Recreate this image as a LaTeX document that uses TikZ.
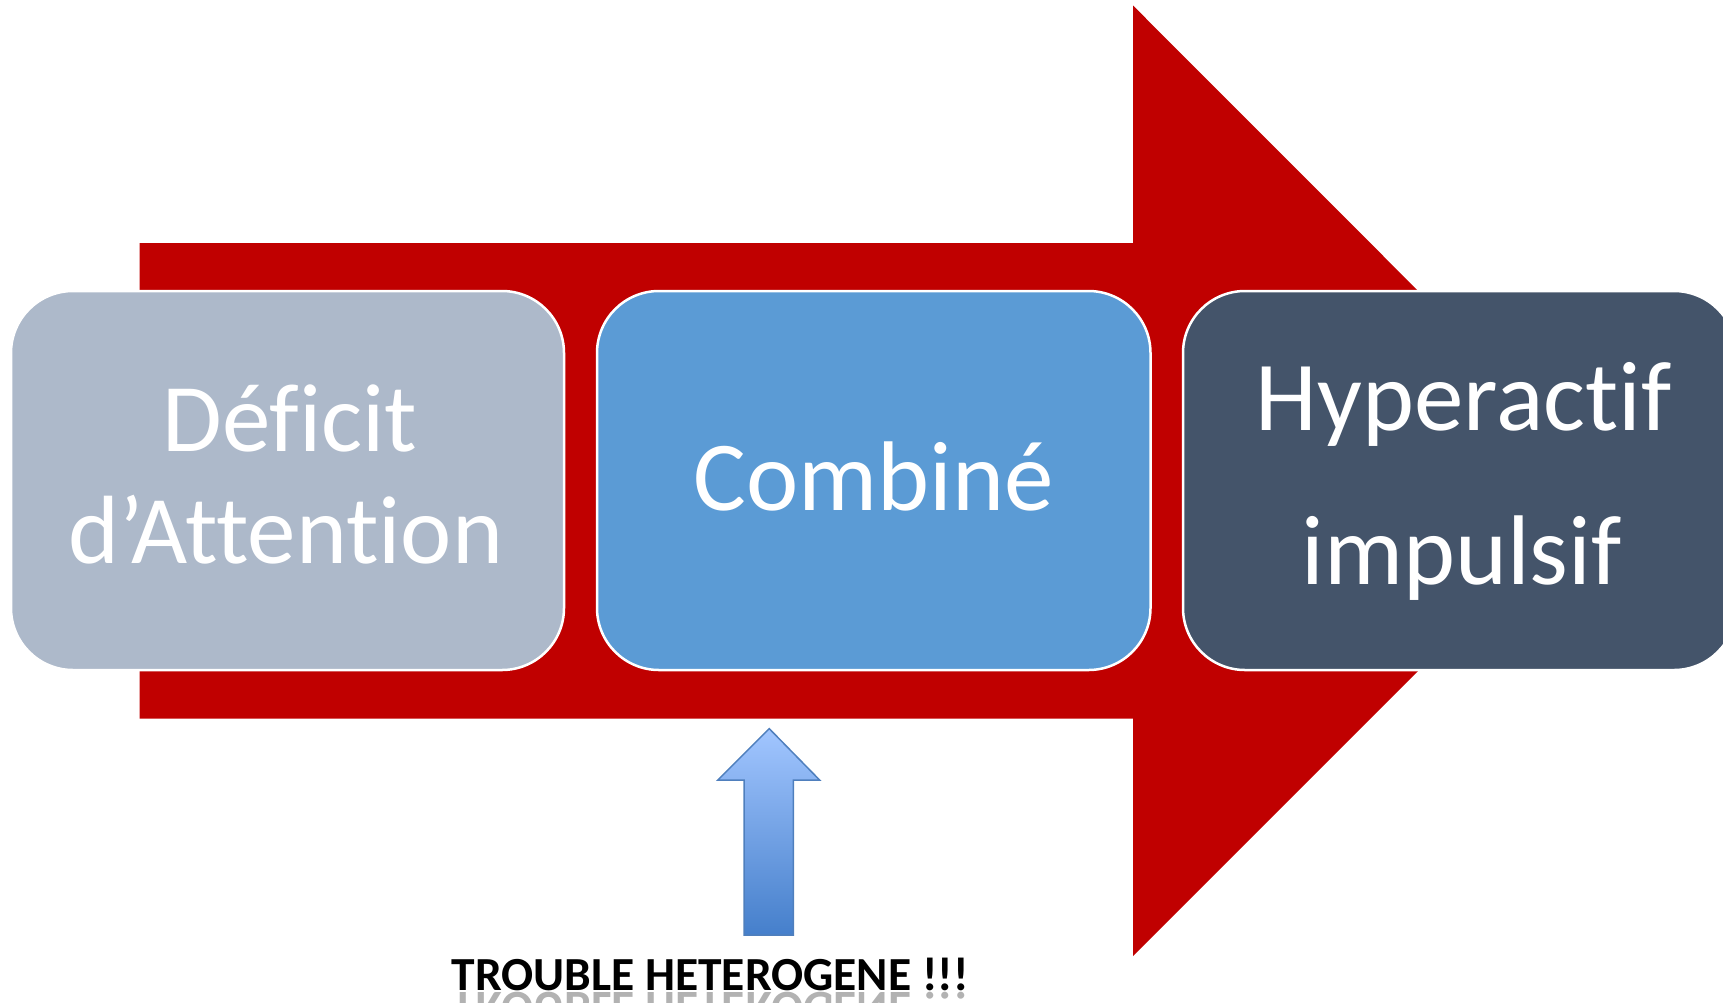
\documentclass[tikz,border=0pt]{standalone}
\usepackage{fontspec}
\setmainfont{Carlito}[Ligatures={CommonOff,ContextualOff}]
\usepackage{graphicx}
\begin{document}
\begin{tikzpicture}[x=1pt,y=-1pt,
  stagebox/.style={draw=white, line width=2.5pt, rounded corners=62pt},
  bigtext/.style={anchor=base, text=white, inner sep=0pt, font=\fontsize{99pt}{99pt}\selectfont},
]
\definecolor{arrowred}{HTML}{C00000}
\definecolor{paleslate}{HTML}{ADB9CA}
\definecolor{midblue}{HTML}{5B9BD5}
\definecolor{darkslate}{HTML}{44546A}
\definecolor{uptop}{HTML}{A2C6FF}
\definecolor{upbottom}{HTML}{457FCB}
\definecolor{upedge}{HTML}{4F7FBD}

\useasboundingbox (0,0) rectangle (1723,1002);
\clip (0,0) rectangle (1723,1002);

% large red process arrow
\fill[arrowred] (139.6,243) -- (1133,243) -- (1133,5.5) -- (1608,481)
  -- (1133,956) -- (1133,718.7) -- (139.6,718.7) -- cycle;

% the three stages
\path[stagebox, fill=paleslate] (11,291) rectangle (564,670);
\path[stagebox, fill=midblue] (597,291) rectangle (1150.5,670);
\path[stagebox, fill=darkslate] (1183,291) rectangle (1736,670);

\node[bigtext, font=\fontsize{97pt}{97pt}\selectfont] (t1a) at (290,451.6) {Déficit};
\node[bigtext, font=\fontsize{97pt}{97pt}\selectfont] (t1b) at (286,563.7) {d’Attention};
\node[bigtext] (t2) at (873.6,510) {Combiné};
\node[bigtext] (t3a) at (1463.7,430.8) {Hyperactif};
\node[bigtext] (t3b) at (1461.6,584.6) {impulsif};

% small upward arrow
\shade[top color=uptop, bottom color=upbottom]
  (769.2,728.6) -- (819.8,780.2) -- (793.4,780.2) -- (793.4,935.2)
  -- (744,935.2) -- (744,780.2) -- (717.6,780.2) -- cycle;
\draw[upedge, line width=1.5pt, line join=miter]
  (769.2,728.6) -- (819.8,780.2) -- (793.4,780.2) -- (793.4,935.2)
  -- (744,935.2) -- (744,780.2) -- (717.6,780.2) -- cycle;

% caption with its reflection
\node[anchor=base, inner sep=0pt, font=\fontsize{47.5pt}{47.5pt}\selectfont\bfseries] (cap) at (710,990) {TROUBLE HETEROGENE !!!};
\node[anchor=base, inner sep=0pt, text=black!30, font=\fontsize{47.5pt}{47.5pt}\selectfont\bfseries] (capr) at (710,992) {\scalebox{1}[-1]{TROUBLE HETEROGENE !!!}};
\end{tikzpicture}
\end{document}
